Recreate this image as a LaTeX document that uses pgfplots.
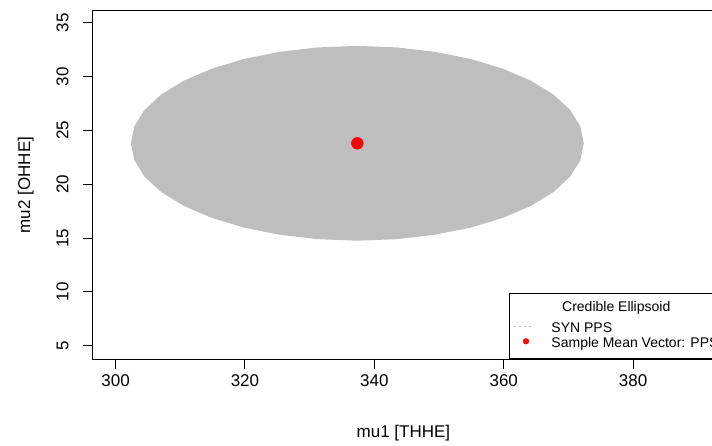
\documentclass[border=0pt]{standalone}
\usepackage{pgfplots}
\pgfplotsset{compat=1.18}
\usepackage{fontspec}
\setmainfont{Liberation Sans}
\definecolor{ellgray}{RGB}{190,190,190}
\begin{document}
\begin{tikzpicture}
\useasboundingbox (0,0) rectangle (712pt,445pt);
\clip (0,0) rectangle (712pt,445pt);
\begin{axis}[
  at={(92.5pt,85.7pt)}, anchor=south west,
  scale only axis, width=621.9pt, height=348.6pt,
  xmin=296.44, xmax=392.56, ymin=3.74, ymax=36.13,
  axis line style={black, line width=1pt},
  xtick={300,320,340,360,380}, ytick={5,10,15,20,25,30,35},
  tick align=outside, xtick pos=bottom, ytick pos=left,
  major tick length=10pt,
  tick style={black, line width=1pt},
  /pgf/number format/assume math mode=true,
  xticklabel style={font=\fontsize{17}{20}\selectfont, anchor=base},
  yticklabel style={font=\fontsize{17}{20}\selectfont, rotate=90, anchor=base},
  xticklabel shift=16.7pt,
  yticklabel shift=14pt,
  xlabel={mu1 [THHE]}, ylabel={mu2 [OHHE]},
  label style={font=\fontsize{17}{20}\selectfont},
  xlabel style={at={(axis description cs:0.5,-0.2229)}, anchor=base},
  ylabel style={at={(axis description cs:-0.1005,0.5)}, anchor=base},
  legend cell align=left,
  legend style={at={(axis description cs:0.6697,0)}, anchor=south west,
    draw=black, line width=1pt, fill=white,
    inner xsep=4pt, inner ysep=10pt, row sep=0pt, column sep=17pt,
    font=\fontsize{14}{16}\selectfont,
    nodes={inner sep=0pt, text height=14pt, text depth=1pt}},
]
\addplot[fill=ellgray, draw=none, forget plot] coordinates {
(372.37,23.81) (371.84,25.38) (370.26,26.91) (367.68,28.34) (364.18,29.63)
(359.87,30.74) (354.87,31.65) (349.34,32.31) (343.45,32.72) (337.37,32.86)
(331.29,32.72) (325.40,32.31) (319.87,31.65) (314.87,30.74) (310.56,29.63)
(307.06,28.34) (304.48,26.91) (302.90,25.38) (302.37,23.81)
(302.90,22.24) (304.48,20.71) (307.06,19.28) (310.56,17.99) (314.87,16.88)
(319.87,15.97) (325.40,15.31) (331.29,14.90) (337.37,14.76)
(343.45,14.90) (349.34,15.31) (354.87,15.97) (359.87,16.88) (364.18,17.99)
(367.68,19.28) (370.26,20.71) (371.84,22.24) (372.37,23.81)
} -- cycle;
\addplot[only marks, mark=*, mark size=5.9pt, red, mark options={draw=red, line width=0.5pt}, forget plot]
  coordinates {(337.37,23.81)};
\addlegendimage{empty legend}
\addlegendentry{\raisebox{6.6pt}{\hspace{10.7pt}Credible Ellipsoid}}
\addlegendimage{legend image code/.code={\draw[gray!55, line width=1pt, dash pattern=on 2pt off 3pt] (0pt,0pt) -- (20pt,0pt);}}
\addlegendentry{SYN PPS}
\addlegendimage{legend image code/.code={\fill[red] (12pt,0pt) circle (2.6pt);}}
\addlegendentry{Sample Mean Vector: PPS}
\end{axis}
\end{tikzpicture}
\end{document}
